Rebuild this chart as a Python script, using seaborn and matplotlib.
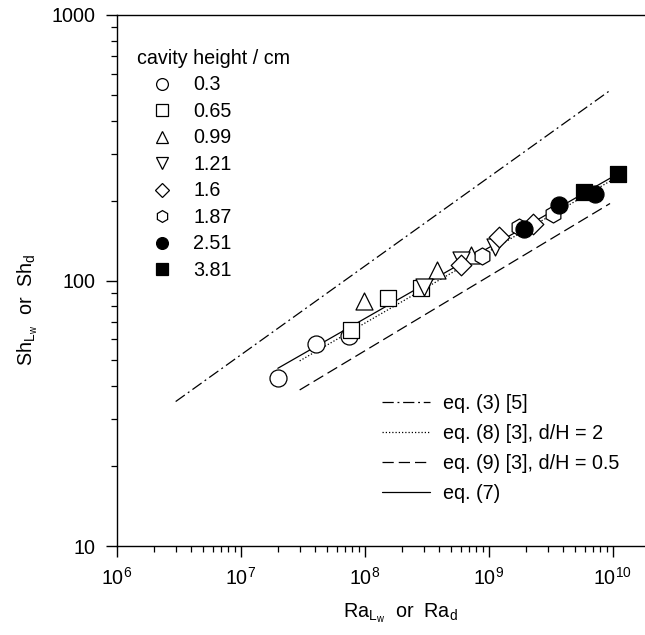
import numpy as np
import pandas as pd
import matplotlib
matplotlib.use("Agg")
import matplotlib.pyplot as plt
from matplotlib.lines import Line2D
from matplotlib.ticker import LogLocator, FixedLocator, NullFormatter
import seaborn as sns

# ---------------- data ----------------
heights = ["0.3", "0.65", "0.99", "1.21", "1.6", "1.87", "2.51", "3.81"]
ra_03 = [2.02e7, 4.06e7, 7.54e7]
sh_03 = [42.8, 57.6, 61.8]
ra_065 = [7.74e7, 1.56e8, 2.86e8]
sh_065 = [65.1, 85.7, 94.0]
ra_099 = [9.9e7, 3.87e8, 7.18e8]
sh_099 = [83.9, 109.6, 124.8]
ra_121 = [3.02e8, 6.0e8, 1.12e9]
sh_121 = [94.3, 119.5, 133.4]
ra_16 = [6.0e8, 1.22e9, 2.27e9]
sh_16 = [114.1, 146.2, 163.2]
ra_187 = [8.9e8, 1.77e9, 3.3e9]
sh_187 = [123.4, 159.5, 177.6]
ra_251 = [1.93e9, 3.7e9, 7.23e9]
sh_251 = [155.9, 192.4, 211.8]
ra_381 = [5.93e9, 1.10e10]
sh_381 = [216.0, 251.8]

line_labels = ["eq. (3) [5]", "eq. (8) [3], d/H = 2", "eq. (9) [3], d/H = 0.5", "eq. (7)"]
ra_eq3 = [3.0e6, 9.4e9]
sh_eq3 = [35.0, 517.0]
ra_eq8 = [3.0e7, 9.9e9]
sh_eq8 = [49.8, 239.0]
ra_eq9 = [3.0e7, 9.55e9]
sh_eq9 = [38.7, 195.0]
ra_eq7 = [2.0e7, 1.1e10]
sh_eq7 = [46.7, 252.0]

# ---------------- style ----------------
sns.set_theme(style="ticks")
plt.rcParams["font.family"] = ["Liberation Sans", "DejaVu Sans"]
plt.rcParams["mathtext.fontset"] = "custom"
plt.rcParams["mathtext.rm"] = "Liberation Sans"
plt.rcParams["mathtext.it"] = "Liberation Sans:italic"
plt.rcParams["mathtext.bf"] = "Liberation Sans:bold"
FS = 14.2

groups = [
    (ra_03, sh_03, "o", False),
    (ra_065, sh_065, "s", False),
    (ra_099, sh_099, "^", False),
    (ra_121, sh_121, "v", False),
    (ra_16, sh_16, "D", False),
    (ra_187, sh_187, "h", False),
    (ra_251, sh_251, "o", True),
    (ra_381, sh_381, "s", True),
]
msizes = {"o": 150, "s": 130, "^": 150, "v": 150, "D": 110, "h": 150}

fig = plt.figure(figsize=(6.45, 6.35), dpi=100)
ax = fig.add_axes([116.5 / 645, (635 - 546) / 635, (645 - 116.5) / 645, (546 - 15) / 635])

# lines
line_specs = [
    (ra_eq3, sh_eq3, (0, (9, 3, 1.5, 3))),
    (ra_eq8, sh_eq8, (0, (1, 1.6))),
    (ra_eq9, sh_eq9, (0, (9, 4))),
    (ra_eq7, sh_eq7, "-"),
]
for (rx, sy, ls), lab in zip(line_specs, line_labels):
    df = pd.DataFrame({"Ra": rx, "Sh": sy})
    sns.lineplot(data=df, x="Ra", y="Sh", ax=ax, color="black", lw=0.9,
                 linestyle=ls, estimator=None, sort=False, legend=False)

# points
for (rx, sy, m, filled), h in zip(groups, heights):
    df = pd.DataFrame({"Ra": rx, "Sh": sy})
    sns.scatterplot(data=df, x="Ra", y="Sh", ax=ax, marker=m, s=msizes[m],
                    facecolor="black" if filled else "white", edgecolor="black",
                    linewidth=0.9, legend=False, zorder=3)

ax.set_xscale("log")
ax.set_yscale("log")
ax.set_xlim(1e6, 10 ** 10.262)
ax.set_ylim(10, 1000)
ax.xaxis.set_major_locator(FixedLocator([1e6, 1e7, 1e8, 1e9, 1e10]))
ax.xaxis.set_minor_locator(LogLocator(base=10, subs=np.arange(2, 10), numticks=20))
ax.yaxis.set_major_locator(FixedLocator([10, 100, 1000]))
ax.yaxis.set_minor_locator(LogLocator(base=10, subs=np.arange(2, 10), numticks=20))
ax.yaxis.set_major_formatter(matplotlib.ticker.FuncFormatter(lambda v, p: f"{int(round(v))}"))
ax.yaxis.set_minor_formatter(NullFormatter())
ax.xaxis.set_minor_formatter(NullFormatter())

for s in ["left", "bottom", "top"]:
    ax.spines[s].set_color("black")
    ax.spines[s].set_linewidth(1.0)
ax.spines["right"].set_visible(False)
ax.tick_params(which="major", direction="out", length=8, width=1, color="black",
               labelsize=FS, labelcolor="black", top=False, right=False, pad=7)
ax.tick_params(which="minor", direction="out", length=4.5, width=0.9, color="black",
               top=False, right=False)
ax.grid(False)

ax.set_xlabel(r"$\mathrm{Ra}_{\mathrm{L}_\mathrm{w}}$  or  $\mathrm{Ra}_\mathrm{d}$", fontsize=FS, color="black")
ax.set_ylabel(r"$\mathrm{Sh}_{\mathrm{L}_\mathrm{w}}$  or  $\mathrm{Sh}_\mathrm{d}$", fontsize=FS, color="black")
ax.xaxis.set_label_coords((400 - 116.5) / (645 - 116.5), -(601 - 546) / (546 - 15))
ax.yaxis.set_label_coords(-(116.5 - 40) / (645 - 116.5), (546 - 310) / (546 - 15))

# legend 1: markers
handles1 = [Line2D([], [], linestyle="none", marker=m, markersize=8.5 if m != "D" else 7.5,
                   markerfacecolor="black" if f else "white", markeredgecolor="black",
                   markeredgewidth=0.9) for (_, _, m, f) in groups]
leg1 = fig.legend(handles1, heights, loc="upper left",
                  bbox_to_anchor=(137 / 645, 1 - 49 / 635), frameon=False,
                  fontsize=FS, title="cavity height / cm", title_fontsize=FS,
                  alignment="left", borderpad=0, borderaxespad=0,
                  labelspacing=0.38, handlelength=2.5, handletextpad=0.35,
                  labelcolor="black")
leg1.get_title().set_color("black")
for t in leg1.get_texts():
    t.set_color("black")

# legend 2: lines
handles2 = [Line2D([], [], color="black", lw=0.9, linestyle=ls) for (_, _, ls) in line_specs]
leg2 = fig.legend(handles2, line_labels, loc="upper left",
                  bbox_to_anchor=(382 / 645, 1 - 394 / 635), frameon=False,
                  fontsize=FS, borderpad=0, borderaxespad=0,
                  labelspacing=0.55, handlelength=2.45, handletextpad=0.65)
for t in leg2.get_texts():
    t.set_color("black")

fig.savefig("out.png", dpi=100, facecolor="white")
